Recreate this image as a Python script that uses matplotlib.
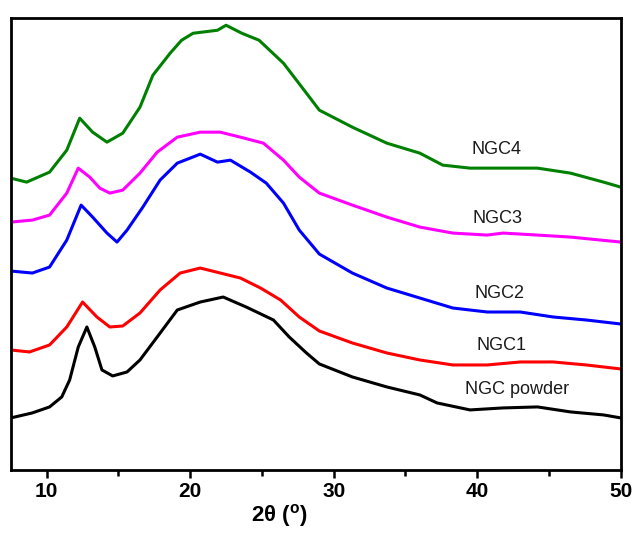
import numpy as np
import matplotlib
matplotlib.use("Agg")
import matplotlib.pyplot as plt
from matplotlib import font_manager

plt.rcParams['font.family'] = ['Liberation Sans', 'DejaVu Sans']
names_installed = {f.name for f in font_manager.fontManager.ttflist}
narrow = 'Liberation Sans Narrow' if 'Liberation Sans Narrow' in names_installed else 'Liberation Sans'
plt.rcParams['mathtext.fontset'] = 'custom'
plt.rcParams['mathtext.rm'] = narrow + ':bold'
plt.rcParams['mathtext.bf'] = narrow + ':bold'

# 2theta (deg) and intensity (arb. units, offset stacked)
tt_powder = [7.5, 9.0, 10.2, 11.05, 11.6, 12.2, 12.8, 13.35, 13.85, 14.6, 15.6, 16.5, 17.7, 19.1, 20.7,
             22.3, 23.9, 25.8, 26.9, 28.1, 29.0, 31.3, 33.7, 36.0, 37.2, 39.5, 41.8, 44.2, 46.5, 48.8, 50]
i_powder = [52, 57, 63, 73, 90, 123, 143, 123, 100, 94, 98, 110, 133, 160, 168,
            173, 163, 150, 133, 117, 106, 93, 83, 75, 67, 60, 62, 63, 58, 55, 52]

tt_ngc1 = [7.5, 8.8, 10.2, 11.4, 12.5, 13.5, 14.4, 15.3, 16.5, 17.9, 19.3, 20.7, 22.1, 23.5,
           24.9, 26.3, 27.6, 29.0, 31.3, 33.7, 36.0, 38.3, 40.7, 43.0, 45.3, 47.6, 50]
i_ngc1 = [120, 118, 125, 143, 168, 153, 143, 144, 157, 180, 197, 202, 197, 192,
          182, 170, 153, 139, 127, 117, 110, 105, 105, 108, 108, 105, 101]

tt_ngc2 = [7.5, 9.0, 10.2, 11.4, 12.4, 13.2, 14.2, 14.9, 15.6, 16.7, 17.9, 19.1, 20.7, 21.9, 22.8,
           24.2, 25.3, 26.5, 27.6, 29.0, 31.3, 33.7, 36.0, 38.3, 40.7, 43.0, 45.3, 47.6, 50]
i_ngc2 = [199, 197, 203, 230, 265, 253, 237, 228, 240, 263, 290, 307, 316, 308, 310,
          298, 287, 267, 240, 216, 197, 182, 172, 162, 158, 158, 153, 150, 146]

tt_ngc3 = [7.5, 9.0, 10.2, 11.4, 12.2, 13.0, 13.7, 14.4, 15.3, 16.5, 17.7, 19.1, 20.7, 22.1,
           23.5, 25.1, 26.5, 27.6, 29.0, 31.3, 33.7, 36.0, 38.3, 40.7, 41.8, 44.2, 46.5, 50]
i_ngc3 = [248, 250, 255, 277, 302, 293, 282, 277, 280, 297, 318, 333, 338, 338,
          333, 327, 310, 293, 277, 265, 253, 243, 237, 235, 237, 235, 233, 228]

tt_ngc4 = [7.5, 8.6, 10.2, 11.4, 12.3, 13.2, 14.2, 15.3, 16.5, 17.4, 18.6, 19.4, 20.2, 21.9, 22.5,
           23.6, 24.8, 26.5, 28.1, 29.0, 31.3, 33.7, 36.0, 37.6, 39.5, 41.8, 44.2, 46.5, 48.8, 50]
i_ngc4 = [292, 288, 298, 320, 352, 338, 328, 337, 363, 395, 417, 430, 437, 440, 445,
          437, 430, 407, 377, 360, 343, 327, 317, 305, 302, 302, 302, 297, 288, 283]

names = ["NGC powder", "NGC1", "NGC2", "NGC3", "NGC4"]
colors = ["black", "red", "blue", "magenta", "green"]
label_pos = [(42.76, 80), (41.7, 124), (41.58, 177), (41.44, 252), (41.37, 321)]

fig = plt.figure(figsize=(6.36, 5.37), dpi=100)
ax = fig.add_axes([0.017, 0.125, 0.959, 0.841])

series = [(tt_powder, i_powder), (tt_ngc1, i_ngc1), (tt_ngc2, i_ngc2),
          (tt_ngc3, i_ngc3), (tt_ngc4, i_ngc4)]
for (tt, ii), c in zip(series, colors):
    ax.plot(tt, ii, color=c, lw=2.2, solid_joinstyle="round")

for name, (x, y) in zip(names, label_pos):
    ax.text(x, y, name, fontsize=13, ha="center", va="center", color="#1a1a1a")

ax.set_xlim(7.5, 50)
ax.set_ylim(0, 452)
ax.set_xticks([10, 20, 30, 40, 50])
ax.set_xticks([15, 25, 35, 45], minor=True)
ax.set_yticks([])
ax.tick_params(axis="x", which="major", direction="out", length=6, width=1.8, labelsize=15, pad=3)
ax.tick_params(axis="x", which="minor", direction="out", length=4, width=1.8)
for lab in ax.get_xticklabels():
    lab.set_fontweight("bold")
    lab.set_family(narrow)
for sp in ax.spines.values():
    sp.set_linewidth(2)
ax.set_xlabel(r"2θ ($^{\mathrm{o}}$)", fontsize=16, fontweight="bold", family=narrow)
ax.xaxis.set_label_coords(0.44, -0.072)

fig.savefig("out.png", dpi=100)
